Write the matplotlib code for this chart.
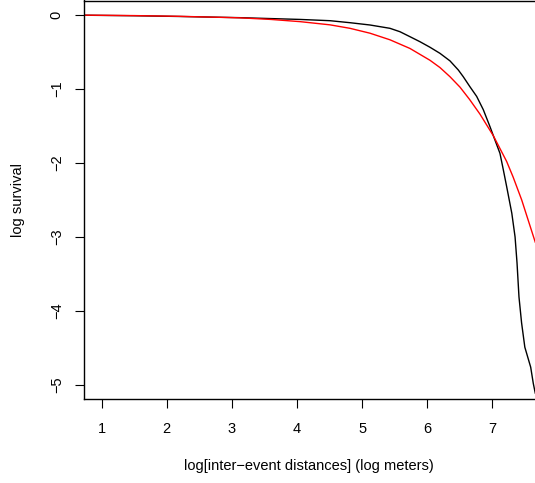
import matplotlib
matplotlib.use("Agg")
import matplotlib.pyplot as plt

plt.rcParams['font.family'] = ['Liberation Sans', 'DejaVu Sans']

# empirical log survival (black)
emp_x = [0.73, 1.5, 2.2, 3.12, 4.05, 4.507, 4.814, 5.121, 5.428, 5.582, 5.735,
         5.889, 6.043, 6.196, 6.35, 6.478, 6.554, 6.657, 6.76, 6.862, 6.965,
         7.041, 7.118, 7.169, 7.221, 7.30, 7.35, 7.38, 7.41, 7.45, 7.50, 7.55,
         7.59, 7.63, 7.66]
emp_y = [-0.003, -0.01, -0.02, -0.036, -0.06, -0.077, -0.104, -0.135, -0.18,
         -0.226, -0.293, -0.361, -0.436, -0.518, -0.62, -0.743, -0.834, -0.97,
         -1.10, -1.28, -1.51, -1.69, -1.87, -2.09, -2.32, -2.68, -3.0, -3.35,
         -3.81, -4.16, -4.49, -4.64, -4.76, -4.98, -5.11]

# fitted log survival (red)
fit_x = [0.73, 1.5, 2.2, 3.12, 3.6, 4.05, 4.507, 4.814, 5.121, 5.428, 5.735,
         6.043, 6.196, 6.35, 6.504, 6.65, 6.811, 7.015, 7.221, 7.32, 7.452, 7.66]
fit_y = [-0.002, -0.008, -0.018, -0.038, -0.06, -0.09, -0.133, -0.18, -0.246,
         -0.335, -0.452, -0.612, -0.71, -0.834, -0.975, -1.14, -1.34, -1.63,
         -1.98, -2.19, -2.50, -3.07]

xticks = [1, 2, 3, 4, 5, 6, 7]
yticks = [0, -1, -2, -3, -4, -5]

W, H = 535, 483
fig = plt.figure(figsize=(W / 100, H / 100), dpi=100)
left, right, top, bottom = 84, 540, 0.5, 399
ax = fig.add_axes([left / W, (H - bottom) / H, (right - left) / W, (bottom - top) / H])

ax.plot(emp_x, emp_y, color='black', lw=1.0)
ax.plot(fit_x, fit_y, color='red', lw=1.0)

ax.set_xlim(0.728, 7.733)
ax.set_ylim(-5.19, 0.196)
ax.set_xticks(xticks)
ax.set_yticks(yticks)
ax.set_yticklabels([str(v).replace('-', '\u2212') for v in yticks])
ax.tick_params(axis='both', direction='out', length=6.5, width=0.8, labelsize=10.5)
ax.tick_params(axis='x', pad=10)
ax.tick_params(axis='y', pad=8, labelrotation=90)
for lab in ax.get_yticklabels():
    lab.set_va('center')
for s in ax.spines.values():
    s.set_linewidth(1.0)

fig.text(309 / W, 1 - 466 / H, 'log[inter\u2212event distances] (log meters)',
         ha='center', va='center', fontsize=10.5)
fig.text(18 / W, 1 - 200 / H, 'log survival', ha='center', va='center',
         rotation=90, fontsize=10.5)

fig.savefig('out.png', dpi=100)
